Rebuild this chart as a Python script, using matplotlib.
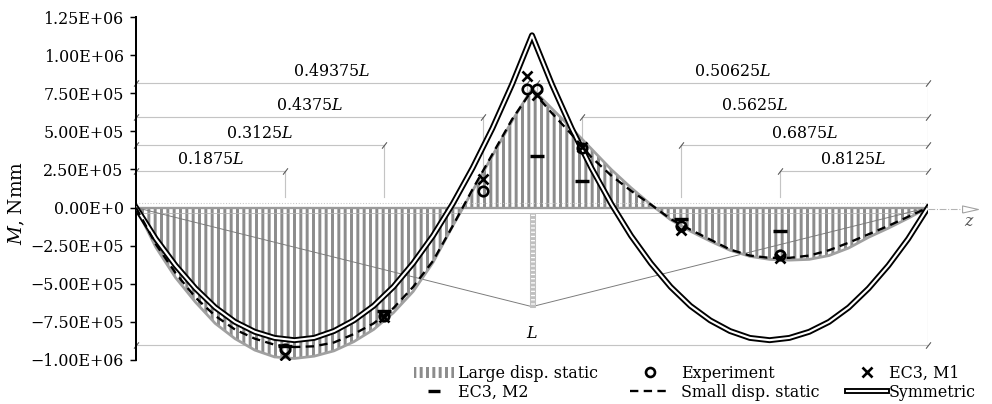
import matplotlib
matplotlib.use("Agg")
import matplotlib.pyplot as plt
from matplotlib.lines import Line2D
from matplotlib.patches import Patch, Rectangle

DPI = 76  # hatch '||' then gives ~6.3 px stripe spacing

plt.rcParams['font.family'] = ['DejaVu Serif']
plt.rcParams['mathtext.fontset'] = 'dejavuserif'
plt.rcParams['hatch.color'] = '#8c8c8c'
plt.rcParams['hatch.linewidth'] = 2.8

# position along the beam (fraction of L)
z = [0.000, 0.025, 0.050, 0.075, 0.100, 0.125, 0.150, 0.175, 0.200, 0.225,
     0.250, 0.275, 0.300, 0.325, 0.350, 0.375, 0.400, 0.425, 0.450, 0.475,
     0.500, 0.525, 0.550, 0.575, 0.600, 0.625, 0.650, 0.675, 0.700, 0.725,
     0.750, 0.775, 0.800, 0.825, 0.850, 0.875, 0.900, 0.925, 0.950, 0.975, 1.000]

# bending moment, Nmm
large_disp = [0, -2.6e5, -4.6e5, -6.2e5, -7.6e5, -8.6e5, -9.35e5, -9.8e5, -9.9e5, -9.75e5,
              -9.4e5, -8.8e5, -8.0e5, -6.9e5, -5.5e5, -3.6e5, -1.2e5, 1.1e5, 3.4e5, 5.7e5,
              7.8e5, 6.5e5, 5.2e5, 3.85e5, 2.5e5, 1.3e5, 0.2e5, -0.8e5, -1.55e5, -2.2e5,
              -2.8e5, -3.2e5, -3.4e5, -3.45e5, -3.4e5, -3.15e5, -2.65e5, -1.95e5, -1.35e5, -0.7e5, 0]
small_disp = [0, -2.4e5, -4.3e5, -5.9e5, -7.1e5, -8.0e5, -8.6e5, -9.0e5, -9.15e5, -9.1e5,
              -8.85e5, -8.3e5, -7.6e5, -6.6e5, -5.2e5, -3.5e5, -1.2e5, 1.2e5, 3.5e5, 5.8e5,
              7.7e5, 6.2e5, 4.8e5, 3.3e5, 2.1e5, 1.1e5, 0.2e5, -0.75e5, -1.45e5, -2.1e5,
              -2.75e5, -3.15e5, -3.3e5, -3.3e5, -3.15e5, -2.8e5, -2.3e5, -1.75e5, -1.2e5, -0.6e5, 0]
symmetric = [0, -2.05e5, -3.8e5, -5.3e5, -6.55e5, -7.5e5, -8.15e5, -8.55e5, -8.7e5, -8.55e5,
             -8.1e5, -7.4e5, -6.45e5, -5.2e5, -3.65e5, -1.85e5, 0.25e5, 2.6e5, 5.2e5, 8.1e5,
             11.3e5, 8.1e5, 5.2e5, 2.6e5, 0.25e5, -1.85e5, -3.65e5, -5.2e5, -6.45e5, -7.4e5,
             -8.1e5, -8.55e5, -8.7e5, -8.55e5, -8.15e5, -7.5e5, -6.55e5, -5.3e5, -3.8e5, -2.05e5, 0]

# measured sections
z_meas = [0.1875, 0.3125, 0.4375, 0.49375, 0.50625, 0.5625, 0.6875, 0.8125]
experiment = [-9.3e5, -7.1e5, 1.1e5, 7.8e5, 7.8e5, 3.9e5, -1.2e5, -3.1e5]
ec3_m1 = [-9.7e5, -7.2e5, 1.9e5, 8.6e5, 7.4e5, 3.95e5, -1.5e5, -3.3e5]
z_m2 = [0.1875, 0.3125, 0.50625, 0.5625, 0.6875, 0.8125]
ec3_m2 = [-9.1e5, -6.8e5, 3.4e5, 1.75e5, -0.75e5, -1.55e5]

# dimension lines of the sketch
dim_levels = [8.18e5, 5.94e5, 4.1e5, 2.4e5]
dim_left = [0.49375, 0.4375, 0.3125, 0.1875]
dim_right = [0.50625, 0.5625, 0.6875, 0.8125]
dim_bottom = -9.0e5
ext_end = 0.7e5

# deflected shape sketch (V line) and support
v_z = [0.0, 0.5, 1.0]
v_m = [0.0, -6.5e5, 0.0]

yticks = [-1.0e6, -7.5e5, -5.0e5, -2.5e5, 0, 2.5e5, 5.0e5, 7.5e5, 1.0e6, 1.25e6]
ytick_labels = ['\u22121.00E+06', '\u22127.50E+05', '\u22125.00E+05', '\u22122.50E+05', '0.00E+0',
                '2.50E+05', '5.00E+05', '7.50E+05', '1.00E+06', '1.25E+06']

DIM_COLOR = '#c4c4c4'
TICK_MARK = [(-1, -1.3), (1, 1.3)]
SYM_BLACK = 5.6
SYM_WHITE = 2.0

fig = plt.figure(figsize=(992 / DPI, 404 / DPI), dpi=DPI)
ax = fig.add_axes([136 / 992, 44 / 404, 792 / 992, 343 / 404])
ax.set_xlim(0, 1)
ax.set_ylim(-1.0e6, 1.25e6)

# large displacement result: hatched area
ax.fill_between(z, large_disp, 0, facecolor='white', edgecolor='#8c8c8c',
                linewidth=0, hatch='||', zorder=1)
ax.plot(z, large_disp, color='#a0a0a0', lw=2.6, solid_joinstyle='round', zorder=3)

# beam strip and z axis
ax.plot([0, 1], [2.8e4, 2.8e4], color='#c8c8c8', lw=1, ls=':', zorder=2)
ax.plot([0, 1], [0, 0], color='#9a9a9a', lw=2.2, zorder=2)
ax.plot([0, 1], [-3.7e4, -3.7e4], color='#b4b4b4', lw=0.8, zorder=2)
ax.plot([1.0, 1.045], [-1e4, -1e4], color='#b4b4b4', lw=1, ls='-.', clip_on=False)
ax.plot([1.053], [-1e4], ls='none', marker=[(-1, -0.45), (1, 0), (-1, 0.45), (-1, -0.45)],
        ms=15, mfc='white', mec='#a0a0a0', mew=1, clip_on=False)
ax.text(1.052, -0.94e5, '$z$', fontsize=15, color='#555555', ha='center', va='center')

# V line and support
ax.plot(v_z, v_m, color='#7a7a7a', lw=0.9, zorder=2)
ax.add_patch(Rectangle((0.4972, v_m[1]), 0.0066, -3.7e4 - v_m[1], facecolor='white',
                       edgecolor='#c0c0c0', lw=1, hatch='---', zorder=2))

# dimension lines
for lev, zl, zr in zip(dim_levels, dim_left, dim_right):
    ax.plot([0, zl], [lev, lev], color=DIM_COLOR, lw=1.1, zorder=0.8)
    ax.plot([zr, 1], [lev, lev], color=DIM_COLOR, lw=1.1, zorder=0.8)
    ax.plot([zl, zl], [lev, ext_end], color=DIM_COLOR, lw=1.1, zorder=0.8)
    ax.plot([zr, zr], [lev, ext_end], color=DIM_COLOR, lw=1.1, zorder=0.8)
    ax.plot([0, zl, zr, 1], [lev] * 4, ls='none', marker=TICK_MARK, ms=6,
            mew=1, color='#555555', zorder=0.9, clip_on=False)
    ax.text(zl / 2, lev + 2e4, f'{zl:g}$L$', fontsize=15, ha='center', va='bottom')
    ax.text((zr + 1) / 2, lev + 2e4, f'{zr:g}$L$', fontsize=15, ha='center', va='bottom')
ax.plot([0, 1], [dim_bottom, dim_bottom], color=DIM_COLOR, lw=1.1, zorder=0.8)
ax.plot([1, 1], [dim_levels[0], dim_bottom], color=DIM_COLOR, lw=1.1, zorder=0.8)
ax.plot([0, 1], [dim_bottom] * 2, ls='none', marker=TICK_MARK, ms=6, mew=1,
        color='#555555', zorder=0.9, clip_on=False)
ax.text(0.5, dim_bottom + 2e4, '$L$', fontsize=15, ha='center', va='bottom')

# symmetric and small displacement results
ax.plot(z, symmetric, color='black', lw=SYM_BLACK, solid_joinstyle='round', zorder=4)
ax.plot(z, symmetric, color='white', lw=SYM_WHITE, solid_joinstyle='round', zorder=4.1)
ax.plot(z, small_disp, color='black', lw=2.2, ls=(0, (3.6, 2.3)), zorder=5)

# measured / code values
ax.plot(z_meas, experiment, ls='none', marker='o', ms=9, mfc='none', mec='black', mew=2.5, zorder=6)
ax.plot(z_meas, ec3_m1, ls='none', marker='x', ms=9.5, mew=2.5, color='black', zorder=6)
ax.plot(z_m2, ec3_m2, ls='none', marker='_', ms=12.5, mew=3.2, color='black', zorder=6)

# axes styling
for side in ['top', 'right', 'bottom']:
    ax.spines[side].set_visible(False)
ax.spines['left'].set_linewidth(1.9)
ax.set_xticks([])
ax.set_yticks(yticks)
ax.set_yticklabels(ytick_labels)
ax.tick_params(axis='y', direction='out', length=5.7, width=1.4, pad=6, labelsize=15)
fig.text(17 / 992, 1 - 203 / 404, '$M$, Nmm', rotation=90, fontsize=17.5,
         ha='center', va='center')

# legend in three columns
h_large = Patch(facecolor='white', edgecolor='#8c8c8c', linewidth=0, hatch='||')
h_m2 = Line2D([], [], ls='none', marker='_', ms=12, mew=3.2, color='black')
h_exp = Line2D([], [], ls='none', marker='o', ms=8.5, mfc='none', mec='black', mew=2.5)
h_small = Line2D([], [], color='black', lw=2.2, ls=(0, (3.6, 2.3)))
h_m1 = Line2D([], [], ls='none', marker='x', ms=9, mew=2.5, color='black')
h_sym = (Line2D([], [], color='black', lw=SYM_BLACK), Line2D([], [], color='white', lw=SYM_WHITE))

leg_kw = dict(frameon=False, fontsize=15, loc='upper left', borderpad=0,
              borderaxespad=0, labelspacing=0.1, handlelength=2.5, handleheight=0.7)
leg_top = 1 - 365 / 404
fig.legend([h_large, h_m2], ['Large disp. static', 'EC3, M2'],
           bbox_to_anchor=(414 / 992, leg_top), handletextpad=0.25, **leg_kw)
fig.legend([h_exp, h_small], ['Experiment', 'Small disp. static'],
           bbox_to_anchor=(630 / 992, leg_top), handletextpad=0.7, **leg_kw)
fig.legend([h_m1, h_sym], ['EC3, M1', 'Symmetric'],
           bbox_to_anchor=(847 / 992, leg_top), handletextpad=0.15, **leg_kw)

fig.savefig('out.png', dpi=DPI)
plt.close(fig)
